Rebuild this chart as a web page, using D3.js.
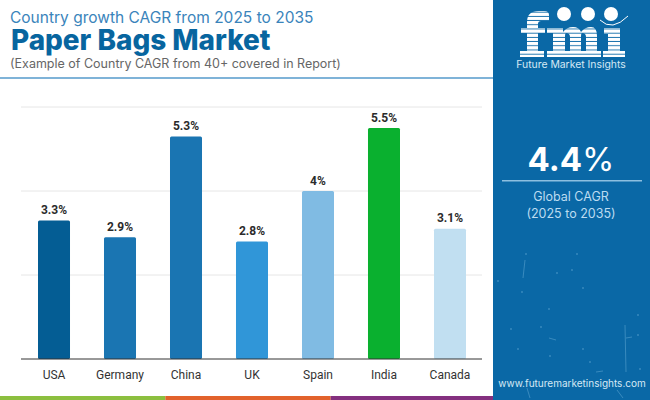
<!DOCTYPE html>
<html>
<head>
<meta charset="utf-8">
<script src="https://cdn.jsdelivr.net/npm/d3@7"></script>
<style>
  html, body { margin: 0; padding: 0; background: #fff; }
  svg { display: block; }
</style>
</head>
<body>
<script>
const countries = ["USA", "Germany", "China", "UK", "Spain", "India", "Canada"]
const cagr = [3.3, 2.9, 5.3, 2.8, 4, 5.5, 3.1]
const barColors = ["#045d94", "#1a75b2", "#1a75b2", "#3096d8", "#80bbe3", "#0ab02f", "#c1dff1"]
const yTicks = [0, 2, 4, 6]
const stripColors = ["#8cbf3f", "#e2622c", "#84307f"]

const width = 650
const height = 400

const svg = d3.select("body").append("svg")
    .attr("width", width)
    .attr("height", height)

const x = d3.scaleBand().domain(countries).range([21, 483]).paddingInner(0.515).paddingOuter(0.2576)
const y = d3.scaleLinear().domain([0, 6]).range([359, 107])

// gridlines
svg.append("g")
    .selectAll("line").data(yTicks.filter(d => d > 0)).join("line")
    .attr("x1", 21).attr("x2", 482)
    .attr("y1", d => y(d)).attr("y2", d => y(d))
    .attr("stroke", "#e6e6e6")

// bars, rounded at the top only: the baseline is drawn over the bottom corners
svg.append("g")
    .selectAll("rect").data(countries).join("rect")
    .attr("x", d => x(d))
    .attr("width", x.bandwidth())
    .attr("y", (d, i) => y(cagr[i]))
    .attr("height", (d, i) => y(0) - y(cagr[i]))
    .attr("rx", 1.5)
    .attr("fill", (d, i) => barColors[i])

svg.append("line")
    .attr("x1", 21).attr("x2", 482)
    .attr("y1", y(0)).attr("y2", y(0))
    .attr("stroke", "#333")

svg.append("g")
    .selectAll("text").data(countries).join("text")
    .attr("x", d => x(d) + x.bandwidth() / 2)
    .attr("y", (d, i) => y(cagr[i]) - 6.5)
    .attr("text-anchor", "middle")
    .attr("font-family", "Roboto")
    .attr("font-weight", 700)
    .attr("font-size", 12)
    .attr("fill", "#2b2b2b")
    .text((d, i) => cagr[i] + "%")

const xAxis = svg.append("g")
    .attr("transform", "translate(0,359)")
    .call(d3.axisBottom(x).tickSize(0).tickPadding(11))
xAxis.select(".domain").remove()
xAxis.selectAll("text")
    .attr("font-family", "Roboto")
    .attr("font-size", 12)
    .attr("fill", "#333")

// header
const head = svg.append("g").attr("font-family", "Inter")
head.append("text").attr("x", 10).attr("y", 23)
    .attr("font-size", 15.5).attr("fill", "#3a84bb")
    .text("Country growth CAGR from 2025 to 2035")
head.append("text").attr("x", 11).attr("y", 50)
    .attr("font-size", 27.9).attr("font-weight", 800).attr("fill", "#07659f")
    .text("Paper Bags Market")
head.append("text").attr("x", 10).attr("y", 68)
    .attr("font-size", 12.5).attr("fill", "#666")
    .text("(Example of Country CAGR from 40+ covered in Report)")
svg.append("rect").attr("x", 0).attr("y", 77).attr("width", 493).attr("height", 2).attr("fill", "#7fb3d8")

// bottom strip
const strip = d3.scaleBand().domain(d3.range(stripColors.length)).range([0, 496])
svg.append("g")
    .selectAll("rect").data(stripColors).join("rect")
    .attr("x", (d, i) => strip(i))
    .attr("y", 396)
    .attr("width", strip.bandwidth())
    .attr("height", 4)
    .attr("fill", d => d)

// right panel
const panel = svg.append("g")
panel.append("rect").attr("x", 493).attr("y", 0).attr("width", 157).attr("height", 400).attr("fill", "#0a68a6")

// faint scratches in the lower part of the panel
panel.append("g")
    .attr("stroke", "#5fa6d2").attr("stroke-width", 1).attr("stroke-opacity", 0.55)
    .selectAll("line")
    .data([[525, 260, 523, 278], [625, 325, 626, 372], [549, 338, 556, 340], [626, 338, 632, 337], [596, 372, 603, 371], [527, 388, 530, 398], [617, 390, 623, 398]])
    .join("line")
    .attr("x1", d => d[0]).attr("y1", d => d[1])
    .attr("x2", d => d[2]).attr("y2", d => d[3])
panel.append("g")
    .attr("fill", "#5fa6d2").attr("fill-opacity", 0.5)
    .selectAll("circle")
    .data([[526, 254], [577, 254], [498, 281], [557, 273], [572, 270], [583, 288], [522, 292], [549, 309], [638, 315], [511, 329], [541, 327], [638, 335], [583, 349], [518, 349], [550, 356], [590, 362], [640, 369]])
    .join("circle")
    .attr("cx", d => d[0]).attr("cy", d => d[1])
    .attr("r", 1.1)

// logo, striped letter shapes with three globes as the dots
const stripes = svg.append("defs").append("pattern")
    .attr("id", "logo-stripes")
    .attr("patternUnits", "userSpaceOnUse")
    .attr("width", 6).attr("height", 4.2)
stripes.append("rect").attr("width", 6).attr("height", 3.3).attr("fill", "#fff")

const letters = [
    "M527 57V33H521V28H527V22Q527 11 539 11H544Q549 11 549 15V21H541Q538 21 538 24V28H545V33H538V51H544V57H520V51H527Z",
    "M547 28H563V32Q567 27 573 27Q579 27 581 32Q585 27 591 27Q597 27 597 36V51H601V57H584V51H586V37Q586 33 582 33Q581 33 581 36V51H584V57H566V51H570V37Q570 33 566 33Q565 33 565 36V51H569V57H547V51H553V33H547Z",
    "M604 28H620V51H625V57H603V51H608V34H604Z"
]
panel.append("g")
    .selectAll("path").data(letters).join("path")
    .attr("d", d => d)
    .attr("fill", "url(#logo-stripes)")

panel.append("g")
    .selectAll("circle").data([564, 588, 611]).join("circle")
    .attr("cx", d => d)
    .attr("cy", 14)
    .attr("r", 7)
    .attr("fill", "#fff")
panel.append("path")
    .attr("d", "M600 20Q612 32 628 16")
    .attr("fill", "none")
    .attr("stroke", "#fff")
    .attr("stroke-width", 1)

panel.append("text").attr("x", 571).attr("y", 68)
    .attr("text-anchor", "middle")
    .attr("font-family", "Inter")
    .attr("font-size", 10.4)
    .attr("fill", "#d5e8f5")
    .text("Future Market Insights")

const big = panel.append("text").attr("x", 571).attr("y", 171)
    .attr("text-anchor", "middle")
    .attr("font-family", "Inter")
    .attr("font-weight", 700)
    .attr("font-size", 33)
    .attr("fill", "#fff")
big.append("tspan").text("4.4")
big.append("tspan").attr("font-weight", 400).text("%")

panel.append("rect").attr("x", 502).attr("y", 180).attr("width", 140).attr("height", 1.5).attr("fill", "#8dbfe0")
panel.append("text").attr("x", 571).attr("y", 201)
    .attr("text-anchor", "middle")
    .attr("font-family", "Inter")
    .attr("font-size", 12.5)
    .attr("fill", "#bcdcf1")
    .text("Global CAGR")
panel.append("text").attr("x", 571).attr("y", 218)
    .attr("text-anchor", "middle")
    .attr("font-family", "Inter")
    .attr("font-size", 12.5)
    .attr("fill", "#bcdcf1")
    .text("(2025 to 2035)")
panel.append("text").attr("x", 572).attr("y", 387)
    .attr("text-anchor", "middle")
    .attr("font-family", "Inter")
    .attr("font-size", 10)
    .attr("fill", "#d5e8f5")
    .text("www.futuremarketinsights.com")
</script>
</body>
</html>
